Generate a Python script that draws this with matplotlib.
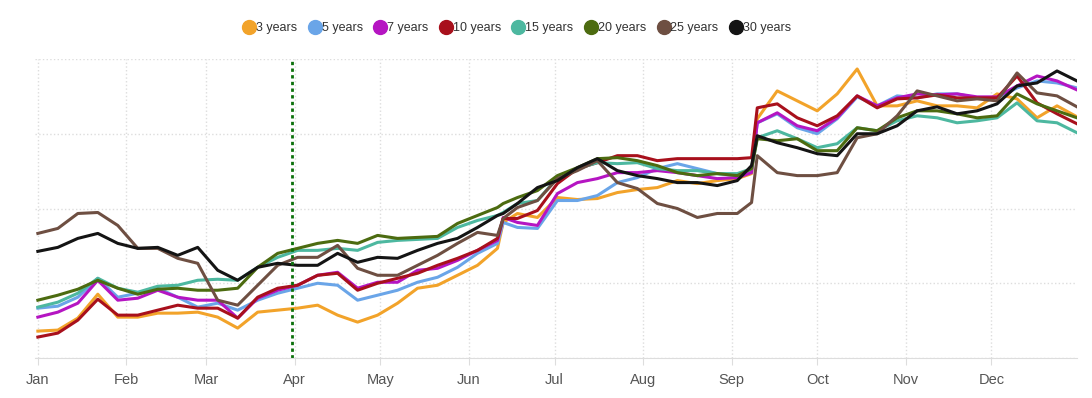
import datetime as dt
import matplotlib
matplotlib.use("Agg")
import matplotlib.pyplot as plt
import matplotlib.dates as mdates
from matplotlib.lines import Line2D

plt.rcParams['font.family'] = ['Liberation Sans', 'DejaVu Sans']

# weekly readings plus two extra days around the jumps (index units, no y labels on the original)
start = dt.date(2023, 1, 1)
dates = [start + dt.timedelta(days=7 * i) for i in range(53)]
dates = sorted(dates + [dt.date(2023, 6, 13), dt.date(2023, 9, 8)])

y3 = [27, 28, 40, 64, 41, 41, 45, 45, 46, 41, 30, 46, 48, 50, 53, 43, 36, 43, 55, 70,
      73, 83, 93, 110, 136, 145, 141, 161, 159, 160, 166, 169, 171, 178, 175, 178, 180, 185, 240, 268, 258, 248,
      265, 290, 253, 253, 258, 253, 253, 251, 265, 260, 241, 253, 242]
y5 = [50, 52, 61, 80, 61, 65, 70, 61, 51, 55, 48, 58, 65, 70, 75, 73, 58, 63, 68, 76,
      81, 91, 105, 115, 136, 131, 130, 158, 158, 163, 176, 181, 190, 195, 190, 185, 183, 188, 236, 245, 231, 225,
      240, 262, 253, 263, 261, 265, 265, 261, 261, 271, 278, 276, 271]
y7 = [41, 46, 55, 78, 58, 60, 68, 61, 58, 58, 40, 60, 68, 73, 83, 86, 70, 76, 76, 88,
      90, 98, 108, 118, 141, 136, 133, 165, 176, 180, 186, 186, 188, 186, 183, 180, 181, 186, 236, 246, 233, 228,
      241, 263, 253, 261, 265, 264, 265, 262, 262, 273, 283, 278, 269]
y10 = [21, 25, 38, 59, 43, 43, 48, 53, 50, 50, 40, 61, 70, 73, 83, 85, 68, 75, 80, 85,
       93, 100, 108, 120, 140, 140, 148, 175, 190, 196, 203, 203, 198, 200, 200, 200, 200, 201, 251, 255, 241, 233,
       243, 263, 251, 260, 261, 264, 261, 261, 261, 283, 256, 245, 235]
y15 = [51, 56, 65, 80, 70, 66, 72, 73, 78, 79, 78, 91, 101, 108, 108, 110, 108, 116, 118, 119,
       120, 131, 138, 143, 146, 155, 158, 181, 190, 196, 195, 196, 190, 188, 188, 185, 185, 190, 221, 228, 220, 211,
       215, 231, 228, 238, 243, 241, 236, 238, 241, 256, 238, 236, 226]
y20 = [58, 63, 69, 78, 70, 64, 69, 70, 68, 68, 70, 91, 105, 110, 115, 118, 115, 123, 120, 121,
       122, 135, 143, 151, 155, 161, 168, 183, 191, 200, 201, 198, 193, 186, 183, 185, 183, 190, 220, 218, 220, 208,
       208, 231, 228, 241, 248, 248, 245, 241, 243, 265, 255, 248, 241]
y25 = [125, 130, 145, 146, 133, 110, 110, 100, 95, 58, 53, 73, 93, 101, 101, 113, 90, 83, 83, 93,
       103, 115, 126, 123, 140, 151, 158, 180, 188, 198, 176, 170, 155, 150, 141, 145, 145, 156, 203, 186, 183, 183,
       186, 221, 225, 243, 268, 263, 258, 260, 258, 286, 266, 263, 252]
y30 = [107, 111, 120, 125, 115, 110, 111, 103, 111, 88, 78, 91, 95, 93, 93, 105, 96, 101, 100, 108,
       115, 120, 131, 143, 145, 155, 171, 178, 191, 200, 188, 183, 180, 176, 176, 173, 178, 193, 223, 216, 211, 205,
       203, 225, 225, 233, 248, 252, 245, 248, 255, 273, 276, 288, 278]

labels = ['3 years', '5 years', '7 years', '10 years', '15 years', '20 years', '25 years', '30 years']
colors = ['#F2A32A', '#6AA5E8', '#B515C2', '#A8101C', '#4DB8A0', '#4C6B10', '#6E4F42', '#141414']
series = [y3, y5, y7, y10, y15, y20, y25, y30]

fig = plt.figure(figsize=(10.92, 3.98), dpi=100)
ax = fig.add_axes([35 / 1092, 40 / 398, 1042 / 1092, 299 / 398])

for vals, c in zip(series, colors):
    ax.plot(dates, vals, color=c, lw=2.2, solid_joinstyle='round')

ax.axvline(dt.date(2023, 3, 31), color='#0B700B', lw=2, linestyle=(0, (1.2, 1.2)), ymax=0.995)

ax.set_ylim(0, 300)
ax.set_yticks([0, 75, 150, 225, 300])
ax.set_yticklabels([])
ax.tick_params(axis='y', length=0)
ax.set_xlim(dt.date(2022, 12, 31) + dt.timedelta(hours=14), dt.date(2023, 12, 31) + dt.timedelta(hours=6))
ax.xaxis.set_major_locator(mdates.MonthLocator())
ax.xaxis.set_major_formatter(mdates.DateFormatter('%b'))
ax.tick_params(axis='x', length=5, color='#DDDDDD', labelsize=10.5, labelcolor='#555555', pad=6)

ax.grid(True, color='#DDDDDD', linestyle=':', lw=1)
ax.set_axisbelow(True)
for s in ['top', 'right', 'left']:
    ax.spines[s].set_visible(False)
ax.spines['bottom'].set_color('#DDDDDD')

handles = [Line2D([], [], marker='o', color=c, linestyle='none', markersize=10) for c in colors]
fig.legend(handles, labels, loc='center', bbox_to_anchor=(517 / 1092, 1 - 28 / 398), ncol=8,
           frameon=False, fontsize=9, handletextpad=0.05, columnspacing=0.9, handlelength=1.0,
           labelcolor='#333333')

fig.savefig('out.png', dpi=100)
